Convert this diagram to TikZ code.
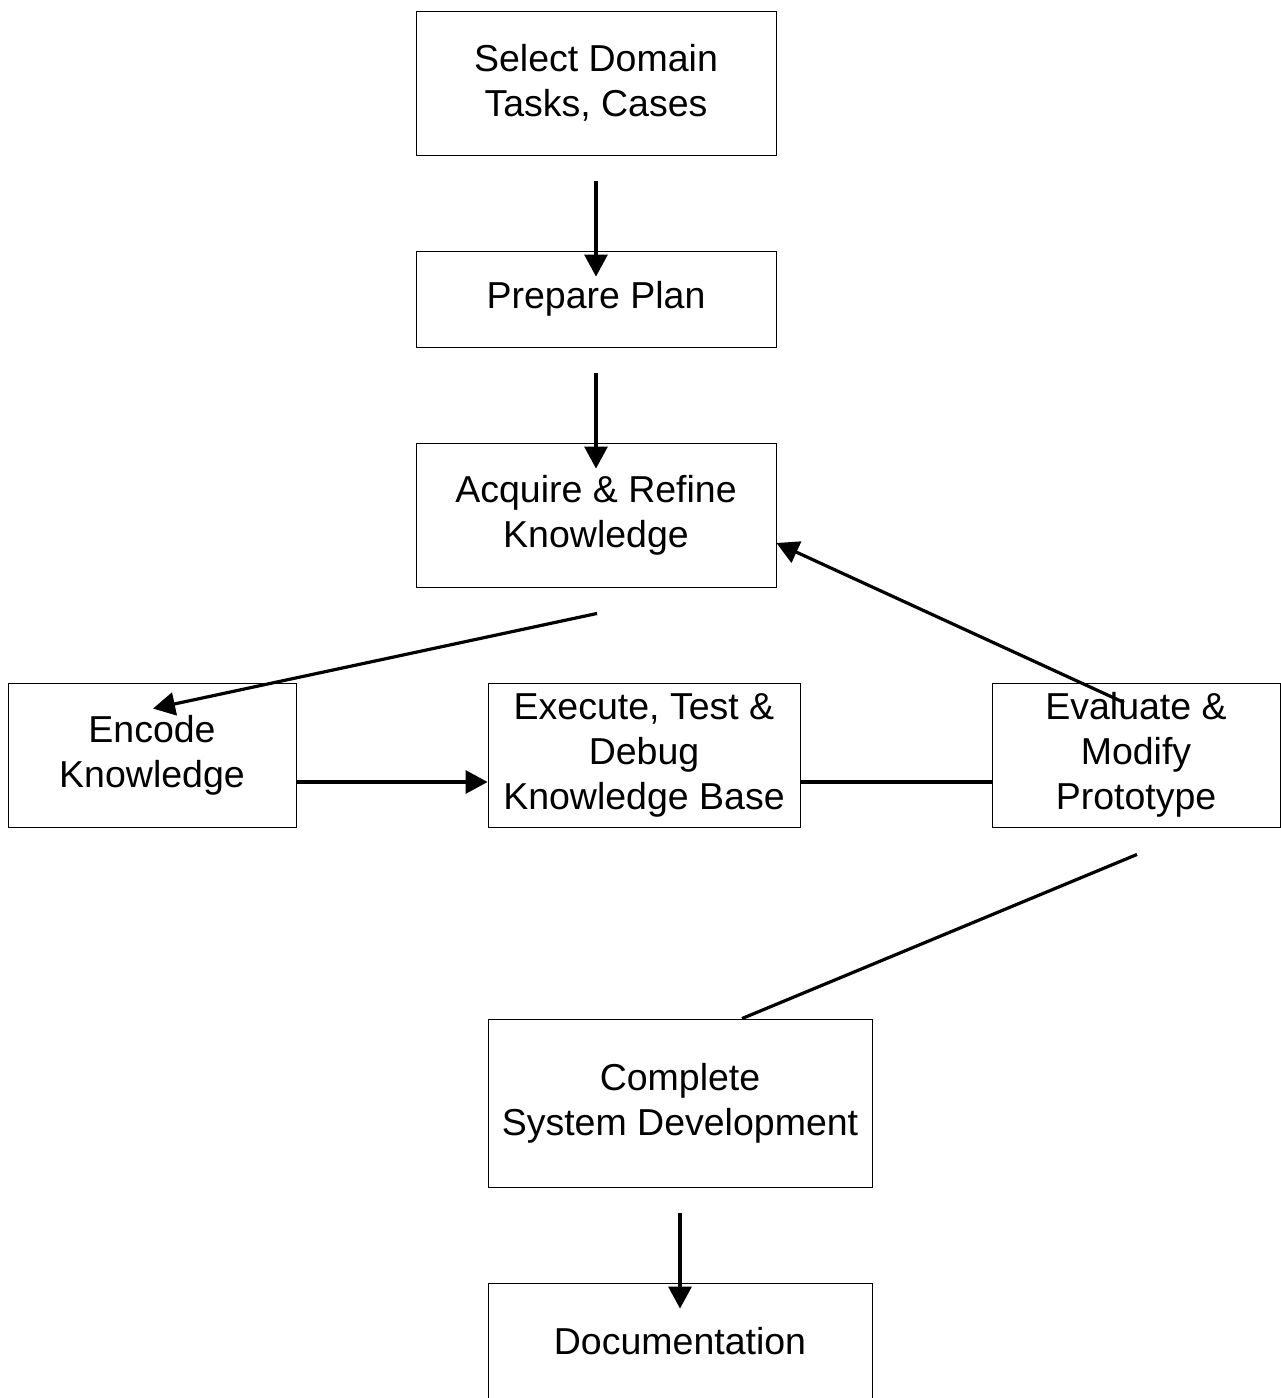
\documentclass[tikz,border=0pt]{standalone}
\usepackage{fontspec}
\setmainfont{Liberation Sans}
\usetikzlibrary{arrows.meta,calc}

\tikzset{
  stagebox/.style={draw=black, line width=0.9pt, rectangle, inner sep=0pt,
    align=center, font=\fontsize{37.5}{45}\selectfont,
    minimum width=#1},
  flow/.style={line width=3.2pt, -{Triangle[length=22pt,width=23pt]}},
  link/.style={line width=3.2pt}
}

\begin{document}
\begin{tikzpicture}[x=1pt,y=-1pt]
  \useasboundingbox (0,0) rectangle (1281,1398);

  % process stages
  \node[stagebox=360pt, minimum height=144pt] (sel)  at (596,83)  {Select Domain\\Tasks, Cases};
  \node[stagebox=360pt, minimum height=96pt]  (plan) at (596,299) {Prepare Plan};
  \node[stagebox=360pt, minimum height=144pt] (acq)  at (596,515) {Acquire \& Refine\\Knowledge};
  \node[stagebox=288pt, minimum height=144pt] (enc)  at (152,755) {Encode\\Knowledge};
  \node[stagebox=312pt, minimum height=144pt] (exe)  at (644,755) {Execute, Test \&\\Debug\\Knowledge Base};
  \node[stagebox=288pt, minimum height=144pt] (eval) at (1136,755) {Evaluate \&\\Modify\\Prototype};
  \node[stagebox=384pt, minimum height=168pt] (comp) at (680,1103) {Complete\\System Development};
  \node[stagebox=384pt, minimum height=116pt] (doc)  at (680,1341) {Documentation};

  % connectors
  \draw[flow] ($(sel.south)+(0,26)$) -- ($(plan.north)+(0,26)$);
  \draw[flow] ($(plan.south)+(0,26)$) -- ($(acq.north)+(0,26)$);
  \draw[flow] ($(acq.south)+(1,26)$) -- ($(enc.north)+(1,26)$);
  \draw[flow] ($(enc.east)+(0,27)$) -- ($(exe.west)+(0,27)$);
  \draw[link] ($(exe.east)+(0,27)$) -- ($(eval.west)+(0,27)$);
  \draw[flow] ($(eval.north)+(-12,20)$) -- ($(acq.east)+(0,28)$);
  \draw[link] ($(eval.south)+(1,27)$) -- ($(comp.north)+(62,0)$);
  \draw[flow] ($(comp.south)+(0,26)$) -- ($(doc.north)+(0,26)$);
\end{tikzpicture}
\end{document}
